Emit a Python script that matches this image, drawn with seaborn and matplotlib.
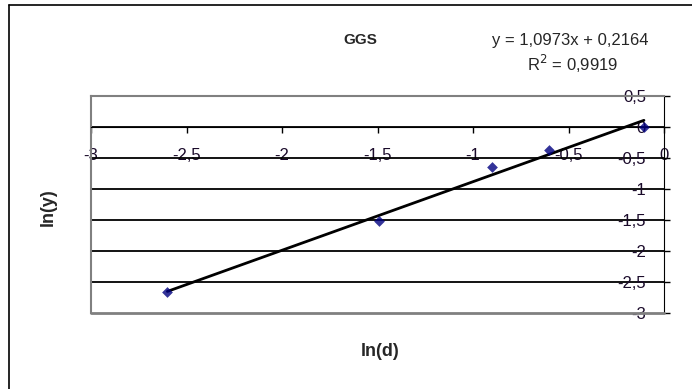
import numpy as np
import pandas as pd
import matplotlib
matplotlib.use("Agg")
import matplotlib.pyplot as plt
from matplotlib.lines import Line2D
from matplotlib.ticker import FuncFormatter
import seaborn as sns

ln_d = [-2.60, -1.49, -0.90, -0.60, -0.105]
ln_y = [-2.66, -1.51, -0.64, -0.37, 0.0]
x_ticks = [-3, -2.5, -2, -1.5, -1, -0.5, 0]
y_ticks = [0.5, 0, -0.5, -1, -1.5, -2, -2.5, -3]
title = "GGS"
equation = "y = 1,0973x + 0,2164"
r2_text = "R$^2$ = 0,9919"

sns.set_style("white")
plt.rcParams['font.family'] = ['Liberation Sans', 'DejaVu Sans']

df = pd.DataFrame({"ln(d)": ln_d, "ln(y)": ln_y})

fig = plt.figure(figsize=(6.92, 3.89), dpi=100)
ax = fig.add_axes([91 / 692, 76 / 389, 573 / 692, 217 / 389])

sns.regplot(data=df, x="ln(d)", y="ln(y)", ci=None, ax=ax, marker="D",
            scatter_kws={"color": "#000080", "s": 30, "zorder": 4, "linewidths": 0},
            line_kws={"color": "black", "lw": 2, "zorder": 3})

ax.set_xlim(-3, 0)
ax.set_ylim(-3, 0.5)
ax.set_xticks(x_ticks)
ax.set_yticks(y_ticks)

comma = FuncFormatter(lambda v, p: ("%g" % v).replace(".", ","))
ax.xaxis.set_major_formatter(comma)
ax.yaxis.set_major_formatter(comma)

# horizontal axis crosses at y = 0, vertical axis at the right edge
ax.spines['bottom'].set_position(('data', 0))
ax.spines['bottom'].set_color('black')
ax.spines['right'].set_color('black')
ax.spines['right'].set_visible(True)
for s in ['top', 'left']:
    ax.spines[s].set_visible(True)
    ax.spines[s].set_color('#808080')
    ax.spines[s].set_linewidth(1.5)
ax.axhline(-3, color='#808080', lw=2, clip_on=False, zorder=5)

ax.yaxis.grid(True, color='black', lw=1.3)
for gl, t in zip(ax.yaxis.get_gridlines(), y_ticks):
    if t in (0.5, -3):
        gl.set_visible(False)

ax.tick_params(axis='x', direction='out', length=4, width=1, color='black',
               bottom=True, pad=11, labelsize=12, labelcolor='#1a0a2a')
ax.tick_params(axis='y', direction='out', length=4, width=1, color='black',
               left=False, right=True, labelleft=False, labelright=True,
               pad=-17, labelsize=12, labelcolor='#1a0a2a')
for lab in ax.get_yticklabels():
    lab.set_horizontalalignment('right')

ax.set_xlabel("")
ax.set_ylabel("")
fig.text(380 / 692, 1 - 352 / 389, "ln(d)", ha='center', va='center',
         fontsize=13, fontweight='bold')
fig.text(48 / 692, 1 - 207 / 389, "ln(y)", ha='center', va='center',
         fontsize=13, fontweight='bold', rotation=90)
fig.text(360 / 692, 1 - 40 / 389, title, ha='center', va='center',
         fontsize=11, fontweight='bold')
fig.text(570 / 692, 1 - 41 / 389, equation, ha='center', va='center', fontsize=12)
fig.text(573 / 692, 1 - 64 / 389, r2_text, ha='center', va='center', fontsize=12)

fig.add_artist(Line2D([9 / 692, 9 / 692], [0, 1 - 5 / 389], color='black', lw=1.2))
fig.add_artist(Line2D([9 / 692, 1], [1 - 5 / 389, 1 - 5 / 389], color='black', lw=1.2))

fig.savefig("out.png", dpi=100)
